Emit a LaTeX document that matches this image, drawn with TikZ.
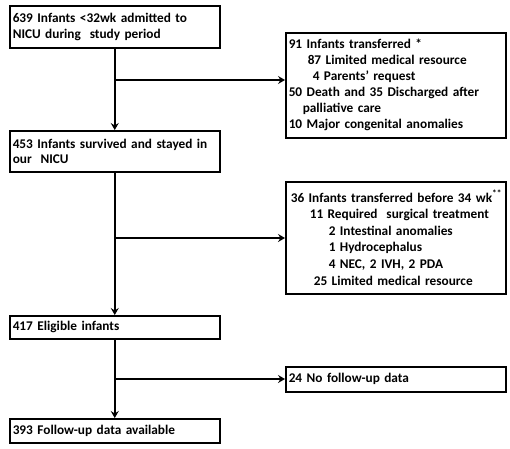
\documentclass[tikz,border=0pt]{standalone}
\usepackage{fontspec}
\setmainfont{Carlito}
\usetikzlibrary{arrows.meta,positioning}
\tikzset{auto}
\tikzset{>={Stealth[width=8pt,length=7pt,inset=2.5pt]}}
\tikzset{lbox/.style={shape=rectangle, draw=black, line width=1.5pt, anchor=north west,
    inner xsep=3pt, inner ysep=1pt, text width=204pt, align=left}}
\tikzset{rbox/.style={lbox, text width=214pt}}
\tikzset{every node/.style={font=\fontsize{13.3}{15.5}\selectfont\bfseries}}

\begin{document}
\begin{tikzpicture}[x=1pt, y=-1pt]
    \useasboundingbox (0,0) rectangle (510,448);

    %%%% Left column
    \node[lbox, minimum height=42pt](b1) at (9,5)
        {639 Infants <32wk admitted to\\NICU during\ \ study period};
    \node[lbox, minimum height=41pt](b3) at (9,130)
        {453 Infants survived and stayed in\\our\ \ NICU};
    \node[lbox, minimum height=23pt](b5) at (9,315)   {417 Eligible infants};
    \node[lbox, minimum height=24pt](b7) at (9,418)   {393 Follow-up data available};

    %%%% Right column
    \node[rbox, minimum height=105pt, font=\fontsize{13.3}{16}\selectfont\bfseries](b2) at (285,32)
        {91 Infants transferred *\\
         \hspace*{19pt}87 Limited medical resource\\
         \hspace*{24pt}4 Parents’ request\\
         50 Death and 35 Discharged after\\
         \hspace*{14pt}palliative care\\
         10 Major congenital anomalies};
    \node[rbox, minimum height=112pt, font=\fontsize{13.3}{16.6}\selectfont\bfseries](b4) at (285,181)
        {\hspace*{2pt}36 Infants transferred before 34 wk\textsuperscript{**}\\
         \hspace*{21pt}11 Required\ \ surgical treatment\\
         \hspace*{40pt}2 Intestinal anomalies\\
         \hspace*{40pt}1 Hydrocephalus\\
         \hspace*{40pt}4 NEC, 2 IVH, 2 PDA\\
         \hspace*{25pt}25 Limited medical resource};
    \node[rbox, minimum height=25pt](b6) at (285,366) {24 No follow-up data};

    %%%% Branch points
    \coordinate (j1) at (114,80);
    \coordinate (j2) at (114,238);
    \coordinate (j3) at (114,379);

    %%%% Main flow
    \draw [->][draw=black, line width=1.5pt] (b1.south) to (b3.north);
    \draw [->][draw=black, line width=1.5pt] (b3.south) to (b5.north);
    \draw [->][draw=black, line width=1.5pt] (b5.south) to (b7.north);

    %%%% Exclusions
    \draw [->][draw=black, line width=1.5pt] (j1) to (j1 -| b2.west);
    \draw [->][draw=black, line width=1.5pt] (j2) to (j2 -| b4.west);
    \draw [->][draw=black, line width=1.5pt] (j3) to (j3 -| b6.west);

\end{tikzpicture}
\end{document}
